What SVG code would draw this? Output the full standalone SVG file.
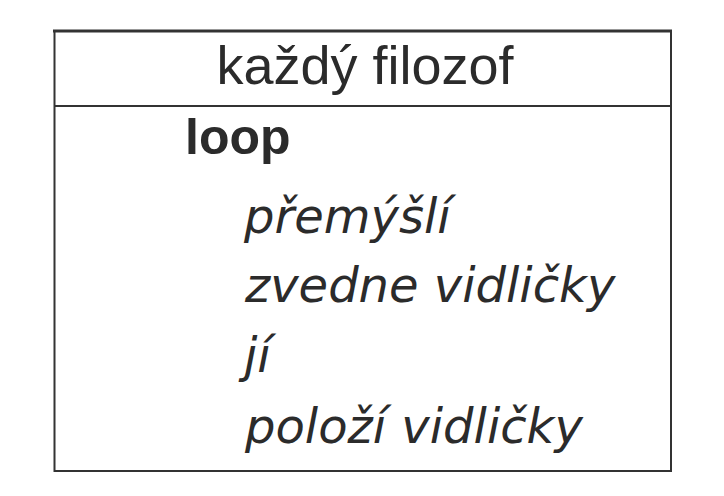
<svg xmlns="http://www.w3.org/2000/svg" width="724" height="496" viewBox="0 0 724 496">
  <style>
    .frame { stroke: #333333; fill: none; }
    .head { font-family: "Liberation Sans", Arial, sans-serif; font-size: 54px; fill: #2b2b2b; }
    .kw { font-family: "Liberation Sans", Arial, sans-serif; font-size: 50px; font-weight: bold; fill: #2b2b2b; }
    .step { font-family: "DejaVu Sans", sans-serif; font-size: 48px; font-style: italic; fill: #2b2b2b; }
  </style>
  <rect width="724" height="496" fill="#ffffff"/>
  <!-- table frame -->
  <g id="frame">
    <line class="frame" x1="53" y1="31" x2="672" y2="31" stroke-width="3"/>
    <line class="frame" x1="54.5" y1="32" x2="54.5" y2="472" stroke-width="2"/>
    <line class="frame" x1="671" y1="32" x2="671" y2="472" stroke-width="2"/>
    <line class="frame" x1="54" y1="106" x2="671" y2="106" stroke-width="2"/>
    <line class="frame" x1="54" y1="471" x2="672" y2="471" stroke-width="2"/>
  </g>
  <!-- header -->
  <g id="header">
    <text class="head" x="365" y="84" text-anchor="middle">každý filozof</text>
  </g>
  <!-- loop body -->
  <g id="body">
    <text class="kw" x="185" y="154">loop</text>
    <text class="step" x="244" y="233">přemýšlí</text>
    <text class="step" x="245" y="302">zvedne vidličky</text>
    <text class="step" x="244" y="372">jí</text>
    <text class="step" x="245" y="443">položí vidličky</text>
  </g>
</svg>
